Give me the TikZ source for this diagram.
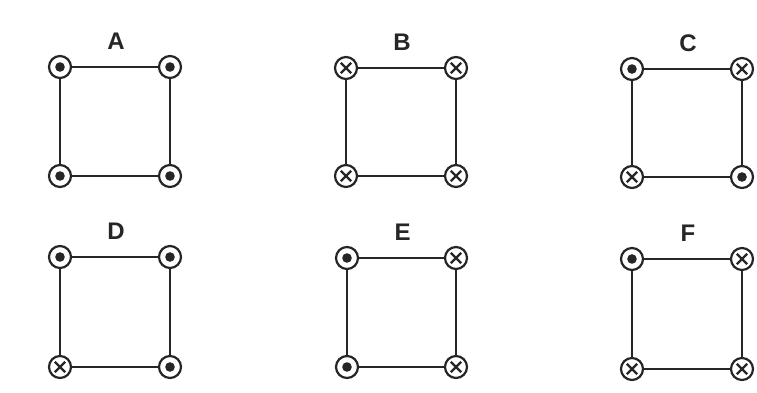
\documentclass[tikz,border=0pt]{standalone}
\usepackage{fontspec}
\setmainfont{Liberation Sans}
\definecolor{ink}{HTML}{262626}
\tikzset{
  wire/.style={draw=ink, line width=1.7pt},
  term/.style={circle, draw=ink, line width=2.2pt, fill=white, minimum size=22pt, inner sep=0pt},
  dotterm/.style={term, path picture={\fill[ink] (path picture bounding box.center) circle[radius=4.8pt];}},
  crossterm/.style={term, path picture={
     \draw[ink, line width=2.4pt] ([shift={(-5.2pt,-5.2pt)}]path picture bounding box.center) -- ([shift={(5.2pt,5.2pt)}]path picture bounding box.center);
     \draw[ink, line width=2.4pt] ([shift={(-5.2pt,5.2pt)}]path picture bounding box.center) -- ([shift={(5.2pt,-5.2pt)}]path picture bounding box.center);}},
  lbl/.style={font=\bfseries\fontsize{24}{26}\selectfont, text=ink, inner sep=0pt}
}
% #1 name, #2 x-left, #3 x-right, #4 y-top, #5 y-bottom, #6 tl, #7 tr, #8 bl, #9 br
\newcommand\drawpanel[9]{
  \node[lbl] (#1lab) at ({(#2+#3)/2+1}, #4-26) {#1};
  \node[#6term] (#1tl) at (#2,#4) {};
  \node[#7term] (#1tr) at (#3,#4) {};
  \node[#8term] (#1bl) at (#2,#5) {};
  \node[#9term] (#1br) at (#3,#5) {};
  \draw[wire] (#1tl) -- (#1tr);
  \draw[wire] (#1tr) -- (#1br);
  \draw[wire] (#1br) -- (#1bl);
  \draw[wire] (#1bl) -- (#1tl);
}
\begin{document}
\begin{tikzpicture}[x=1pt, y=-1pt]
\useasboundingbox[fill=white] (0,0) rectangle (757,393);
\drawpanel{A}{60}{170}{67}{176}{dot}{dot}{dot}{dot}
\drawpanel{B}{346}{456}{68}{176}{cross}{cross}{cross}{cross}
\drawpanel{C}{632}{742}{69}{177}{dot}{cross}{cross}{dot}
\drawpanel{D}{60}{170}{257}{367}{dot}{dot}{cross}{dot}
\drawpanel{E}{347}{456}{258}{367}{dot}{cross}{dot}{cross}
\drawpanel{F}{632}{742}{259}{369}{dot}{cross}{cross}{cross}
\end{tikzpicture}
\end{document}
